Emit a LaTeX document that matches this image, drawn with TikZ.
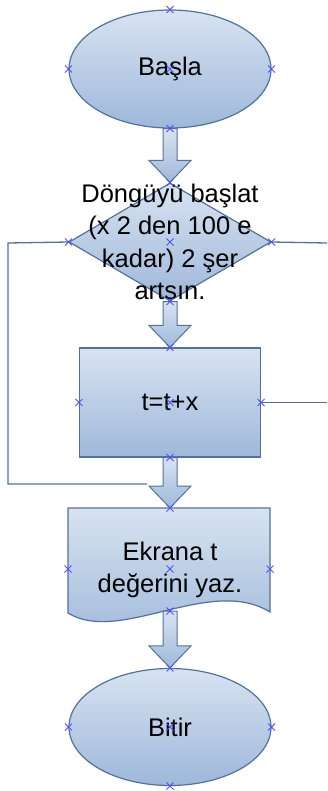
\documentclass[tikz,border=0pt]{standalone}
\usepackage{fontspec}
\setmainfont{Liberation Sans}
\usetikzlibrary{shapes.geometric,calc}
\definecolor{edgec}{RGB}{80,115,158}
\definecolor{ftop}{RGB}{216,227,241}
\definecolor{fbot}{RGB}{158,184,218}
\definecolor{markc}{RGB}{80,80,255}
\tikzset{
 shapebox/.style={draw=edgec, line width=1.2pt, top color=ftop, bottom color=fbot, inner sep=0pt},
 term/.style={shapebox, ellipse, minimum width=202pt, minimum height=118pt},
 dec/.style={shapebox, diamond, minimum width=202pt, minimum height=118pt},
 proc/.style={shapebox, rectangle, minimum width=181pt, minimum height=109pt},
 lbl/.style={font=\fontsize{25.5}{32.5}\selectfont, align=center, text=black, inner sep=0pt},
 conn/.style={draw=edgec, line width=1.3pt},
 barrow/.style={draw=edgec, line width=1pt, top color=ftop, bottom color=fbot},
 xmark/.style={draw=markc, line width=0.9pt},
}
\newcommand{\blockarr}[2]{\path[barrow] ($(#1)+(-7,0)$) -- ($(#2)+(-7,-22)$) -- ($(#2)+(-21,-22)$) -- (#2) -- ($(#2)+(21,-22)$) -- ($(#2)+(7,-22)$) -- ($(#1)+(7,0)$) -- cycle;}
\newcommand{\xm}[1]{\draw[xmark] ($(#1)+(-3.5,-3.5)$) -- ($(#1)+(3.5,3.5)$) ($(#1)+(-3.5,3.5)$) -- ($(#1)+(3.5,-3.5)$);}
\begin{document}
\begin{tikzpicture}[x=1pt,y=-1pt]
\useasboundingbox (0,0) rectangle (327,791);
% shapes
\node[term] (e1) at (170,69) {};
\node[lbl] (e1t) at (e1.center) {Başla};
\node[dec] (d) at (170,242) {};
\node[lbl] (dt) at (d.center) {Döngüyü başlat\\(x 2 den 100 e\\kadar) 2 şer\\artsın.};
\node[proc] (r) at (170,402.5) {};
\node[lbl] (rt) at (r.center) {t=t+x};
\path[shapebox] (68,508) -- (270,508) -- (270,612) .. controls (210,575) and (120,645) .. (68,613) -- cycle;
\coordinate (doctop) at (170,508);
\coordinate (docbot) at (170,611);
\coordinate (docl) at (68,569);
\coordinate (docr) at (270,569);
\coordinate (docc) at (170,569);
\node[lbl] (doc) at (170,570) {Ekrana t\\değerini yaz.};
\node[term, minimum height=117pt] (e2) at (170,727) {};
\node[lbl] (e2t) at (e2.center) {Bitir};
% connectors
\coordinate (lp1) at (8,243);
\coordinate (lp2) at (8,484);
\coordinate (lp3) at (147,484);
\draw[conn] (d.west) -- (lp1) -- (lp2) -- (lp3);
\coordinate (rp1) at (327,243);
\coordinate (rp2) at (327,402.5);
\draw[conn] (d.east) -- (rp1);
\draw[conn] (r.east) -- (rp2);
% block arrows
\blockarr{e1.south}{d.north}
\blockarr{d.south}{r.north}
\blockarr{r.south}{doctop}
\blockarr{docbot}{e2.north}
% markers
\foreach \n in {e1,d,r,e2}{
  \foreach \a in {north,south,east,west,center}{\xm{\n.\a}}
}
\xm{doctop}\xm{docbot}\xm{docl}\xm{docr}\xm{docc}
\end{tikzpicture}
\end{document}
